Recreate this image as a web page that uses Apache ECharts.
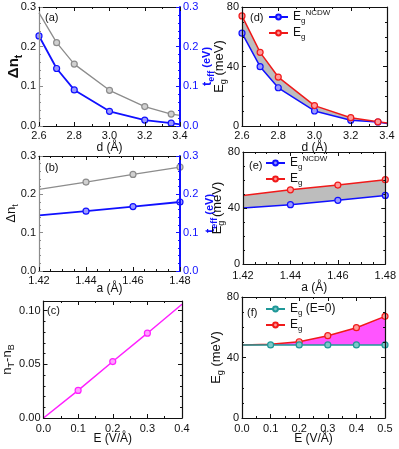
<!DOCTYPE html>
<html>
<head>
<meta charset="utf-8">
<script src="https://cdn.jsdelivr.net/npm/echarts@6/dist/echarts.min.js"></script>
<style>
  html, body { margin: 0; padding: 0; background: #fff; }
  #main { width: 399px; height: 449px; }
</style>
</head>
<body>
<div id="main"></div>
<script>
// (a) delta n_t and t_eff against d
const dA = [2.6, 2.7, 2.8, 3.0, 3.2, 3.35, 3.4];
const dnA = [0.285, 0.21, 0.156, 0.09, 0.049, 0.03, 0.027];
const teffA = [0.227, 0.145, 0.091, 0.037, 0.015, 0.007, 0.004];
// (b) same against a
const aB = [1.42, 1.44, 1.46, 1.48];
const dnB = [0.213, 0.232, 0.252, 0.271];
const teffB = [0.145, 0.156, 0.168, 0.18];
// (c) n_T - n_B against field
const eC = [0, 0.1, 0.2, 0.3, 0.4];
const nC = [0, 0.0257, 0.0526, 0.079, 0.106];
// (d) gaps against d
const dD = [2.6, 2.7, 2.8, 3.0, 3.2, 3.35, 3.4];
const ncdwD = [62.4, 39.9, 25.7, 10.1, 3.8, 2.7, 1.6];
const egD = [74, 49.5, 32.9, 13.7, 5.6, 2.8, 2];
// (e) gaps against a
const aE = [1.42, 1.44, 1.46, 1.48];
const ncdwE = [40, 42.4, 45.5, 49];
const egE = [49, 53, 56.4, 60.2];
// (f) gaps against field
const eF = [0, 0.1, 0.2, 0.3, 0.4, 0.5];
const eg0F = [48.3, 48.3, 48.3, 48.3, 48.3, 48.3];
const egF = [48.3, 48.7, 50.4, 54.4, 59.7, 67.2];

const FONT = 'Liberation Sans';
const BLUE = '#1010ff', GRAY = '#8c8c8c', RED = '#f01a1a', MAG = '#ff20ff', TEAL = '#1f9898';

let chart = echarts.init(document.getElementById('main'));

const grids = [
  { left: 39, top: 7, width: 141, height: 119 },    // a
  { left: 39, top: 156, width: 141, height: 115 },  // b
  { left: 41, top: 301, width: 141, height: 117 },  // c
  { left: 242, top: 7, width: 145, height: 119 },   // d
  { left: 243, top: 152, width: 144, height: 112 }, // e
  { left: 242, top: 297, width: 143, height: 121 }  // f
];

const sub = { fontSize: 8, lineHeight: 8, verticalAlign: 'bottom', fontFamily: FONT };
const nameRich = {
  n: { fontSize: 13, lineHeight: 18, fontFamily: FONT, color: '#111' },
  s: Object.assign({}, sub, { fontSize: 9, lineHeight: 9, color: '#111' }),
  nb: { fontSize: 15, lineHeight: 20, fontWeight: 'bold', fontFamily: FONT, color: '#111' },
  sb: Object.assign({}, sub, { fontSize: 10, lineHeight: 10, fontWeight: 'bold', color: '#111' }),
  tb: { fontSize: 13, lineHeight: 18, fontWeight: 'bold', fontFamily: FONT, color: BLUE },
  ts: Object.assign({}, sub, { fontSize: 9, lineHeight: 9, fontWeight: 'bold', color: BLUE }),
  tp: { fontSize: 11, lineHeight: 18, fontWeight: 'bold', fontFamily: FONT, color: BLUE }
};

let xAxes = [];
let yAxes = [];

function xPair(g, min, max, step, minor, dec, name, margin, gap) {
  let common = {
    gridIndex: g, type: 'value', min: min, max: max, interval: step, z: 10,
    axisLine: { onZero: false, lineStyle: { color: '#111', width: 1.2 } },
    axisTick: { inside: true, length: 4, lineStyle: { color: '#111' } },
    minorTick: { show: true, splitNumber: minor, length: 2, lineStyle: { color: '#111' } },
    splitLine: { show: false }
  };
  xAxes.push(Object.assign({}, common, {
    position: 'bottom',
    axisLabel: { color: '#111', fontSize: 11, fontFamily: FONT, margin: margin,
      formatter: v => v.toFixed(dec) },
    name: name, nameLocation: 'middle', nameGap: gap, nameMoveOverlap: false,
    nameTextStyle: { color: '#111', fontSize: 12, fontFamily: FONT }
  }));
  xAxes.push(Object.assign({}, common, { position: 'top', axisLabel: { show: false } }));
}

function yAxis(g, pos, min, max, step, minor, dec, color, labelColor, name, gap, extra) {
  let ax = {
    gridIndex: g, type: 'value', position: pos, min: min, max: max, interval: step, z: 10,
    axisLine: { show: true, onZero: false, lineStyle: { color: color, width: color == BLUE ? 2 : 1.2 } },
    axisTick: { show: true, inside: true, length: 4, lineStyle: { color: color } },
    minorTick: { show: true, splitNumber: minor, length: 2, lineStyle: { color: color } },
    splitLine: { show: false },
    axisLabel: labelColor ? { color: labelColor, fontSize: 11, fontFamily: FONT, margin: 3,
      formatter: v => v.toFixed(dec) } : { show: false }
  };
  if (name) {
    ax.name = name;
    ax.nameLocation = 'middle';
    ax.nameGap = gap;
    ax.nameRotate = 90;
    ax.nameMoveOverlap = false;
    ax.nameTextStyle = { rich: nameRich };
  }
  yAxes.push(Object.assign(ax, extra || {}));
}

// a
xPair(0, 2.6, 3.4, 0.2, 2, 1, 'd (Å)', 4, 16);
yAxis(0, 'left', 0, 0.3, 0.1, 5, 1, GRAY, '#111', '{nb|Δn}{sb|t}', 15);
yAxis(0, 'right', 0, 0.3, 0.1, 5, 1, BLUE, BLUE, '{tb|t}{ts|eff}{tp| (eV)}', 18);
// b
xPair(1, 1.42, 1.48, 0.02, 4, 2, 'a (Å)', 4, 12);
yAxis(1, 'left', 0, 0.3, 0.1, 5, 1, GRAY, '#111', '{n|Δn}{s|t}', 19);
yAxis(1, 'right', 0, 0.3, 0.1, 5, 1, BLUE, BLUE, '{tb|t}{ts|eff}{tp| (eV)}', 21);
// c: top of the range falls between ticks, so its label is hidden
xPair(2, 0, 0.4, 0.1, 2, 1, 'E (V/Å)', 5, 15);
yAxis(2, 'left', 0, 0.109, 0.05, 5, 2, '#111', '#111', '{n|n}{s|T}{n|-n}{s|B}', 27,
  { axisLabel: { color: '#111', fontSize: 11, fontFamily: FONT, margin: 3, showMaxLabel: false,
    formatter: v => v.toFixed(2) } });
yAxis(2, 'right', 0, 0.109, 0.05, 5, 2, '#111', null);
// d
xPair(3, 2.6, 3.4, 0.2, 2, 1, 'd (Å)', 4, 16);
yAxis(3, 'left', 0, 80, 40, 4, 0, '#111', '#111', '{n|E}{s|g}{n| (meV)}', 14);
yAxis(3, 'right', 0, 80, 40, 4, 0, '#111', null);
// e
xPair(4, 1.42, 1.48, 0.02, 4, 2, 'a (Å)', 6, 18);
yAxis(4, 'left', 0, 80, 40, 4, 0, '#111', '#111', '{n|E}{s|g}{n| (meV)}', 17);
yAxis(4, 'right', 0, 80, 40, 4, 0, '#111', null);
// f
xPair(5, 0, 0.5, 0.1, 2, 1, 'E (V/Å)', 5, 15);
yAxis(5, 'left', 0, 80, 40, 4, 0, '#111', '#111', '{n|E}{s|g}{n| (meV)}', 17);
yAxis(5, 'right', 0, 80, 40, 4, 0, '#111', null);

function pts(xs, ys, noMark) {
  return xs.map((x, i) => {
    let p = { value: [x, ys[i]] };
    if (noMark && noMark.indexOf(i) >= 0) p.symbol = 'none';
    return p;
  });
}

function line(name, g, yi, xs, ys, color, fill, noMark, width) {
  return {
    name: name, type: 'line', xAxisIndex: 2 * g, yAxisIndex: 2 * g + yi,
    data: pts(xs, ys, noMark), symbol: 'circle', symbolSize: 6,
    lineStyle: { color: color, width: width || 1.5 },
    itemStyle: { color: fill, borderColor: color, borderWidth: 1.2 },
    z: 5, silent: true
  };
}

// shaded band: fill under the upper curve, then white under the lower one
function band(id, g, xs, lo, hi, color) {
  return [
    { name: id + 'hi', type: 'line', xAxisIndex: 2 * g, yAxisIndex: 2 * g,
      data: pts(xs, hi), symbol: 'none', lineStyle: { opacity: 0 },
      areaStyle: { color: color, opacity: 1 }, z: 1, silent: true },
    { name: id + 'lo', type: 'line', xAxisIndex: 2 * g, yAxisIndex: 2 * g,
      data: pts(xs, lo), symbol: 'none', lineStyle: { opacity: 0 },
      areaStyle: { color: '#fff', opacity: 1 }, z: 2, silent: true }
  ];
}

let series = [
  line('dnA', 0, 0, dA, dnA, GRAY, '#d0d0d0', [0, 6], 1.3),
  line('teffA', 0, 1, dA, teffA, BLUE, '#9a9aff', [6], 1.8),
  line('dnB', 1, 0, aB, dnB, GRAY, '#d0d0d0', [0], 1.3),
  line('teffB', 1, 1, aB, teffB, BLUE, '#9a9aff', [0], 1.8),
  line('nC', 2, 0, eC, nC, MAG, '#ffa0ff', [0, 4], 1.5),
  ...band('bd', 3, dD, ncdwD, egD, '#bdbdbd'),
  line('EgNCDW', 3, 0, dD, ncdwD, BLUE, '#9a9aff', [6]),
  line('Eg', 3, 0, dD, egD, RED, '#ff9a9a', [6]),
  ...band('be', 4, aE, ncdwE, egE, '#bdbdbd'),
  line('EgNCDW', 4, 0, aE, ncdwE, BLUE, '#9a9aff', [0]),
  line('Eg', 4, 0, aE, egE, RED, '#ff9a9a', [0]),
  ...band('bf', 5, eF, eg0F, egF, '#ff55ff'),
  line('Eg', 5, 0, eF, egF, RED, '#ff9a9a', [0, 1]),
  line('Eg0', 5, 0, eF, eg0F, TEAL, '#7cc8c8', [0])
];
series[series.length - 1].z = 6;

const legendText = {
  EgNCDW: '{e|E}{sb|g}{sp|NCDW}',
  Eg: '{e|E}{sb|g}',
  Eg0: '{e|E}{sb|g}{e| (E=0)}'
};
const legendRich = {
  e: { fontSize: 12, lineHeight: 16, fontFamily: FONT, color: '#111' },
  sb: { fontSize: 8, lineHeight: 8, verticalAlign: 'bottom', fontFamily: FONT, color: '#111' },
  sp: { fontSize: 8, lineHeight: 8, verticalAlign: 'top', fontFamily: FONT, color: '#111' }
};

function legend(names, left, top) {
  return {
    data: names, left: left, top: top, orient: 'vertical', padding: 0,
    itemWidth: 19, itemHeight: 6, itemGap: 2, selectedMode: false,
    formatter: n => legendText[n],
    textStyle: { rich: legendRich }
  };
}

function tag(text, left, top) {
  return { text: text, left: left, top: top, padding: 0,
    textStyle: { fontSize: 11, fontWeight: 'normal', fontFamily: FONT, color: '#111' } };
}

option = {
  animation: false,
  backgroundColor: '#fff',
  title: [
    tag('(a)', 45, 12), tag('(b)', 45, 162), tag('(c)', 47, 305),
    tag('(d)', 250, 12), tag('(e)', 249, 160), tag('(f)', 247, 307)
  ],
  legend: [
    legend(['EgNCDW', 'Eg'], 268, 9),
    legend(['EgNCDW', 'Eg'], 265, 155),
    legend(['Eg0', 'Eg'], 265, 303)
  ],
  grid: grids,
  xAxis: xAxes,
  yAxis: yAxes,
  series: series
};

option && chart.setOption(option);
</script>
</body>
</html>
